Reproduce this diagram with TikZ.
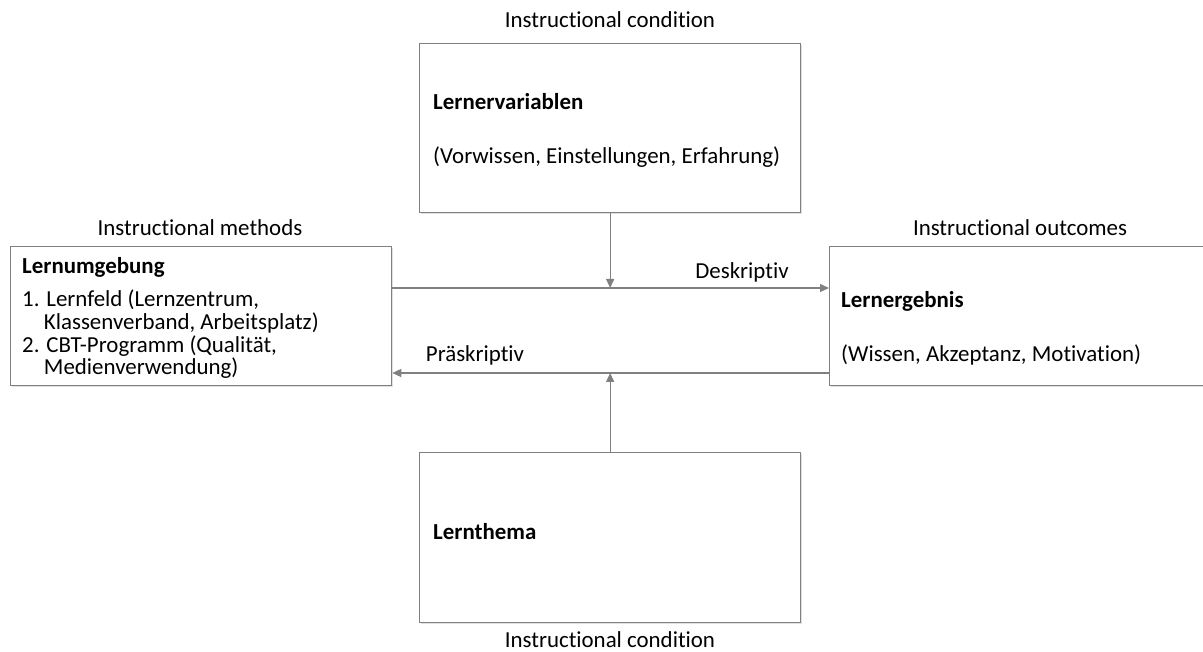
\documentclass[tikz,border=0pt]{standalone}
\usepackage{fontspec}
\setmainfont{Carlito}[Ligatures=NoCommon]
\usetikzlibrary{arrows.meta,shadows}
\definecolor{edge}{RGB}{128,128,128}
\tikzset{
  box/.style={draw=edge, line width=1.3pt, fill=white, anchor=north west,
    inner sep=0pt, drop shadow={shadow xshift=1.2pt, shadow yshift=-1.2pt,
    fill=black, opacity=0.12}},
  arr/.style={draw=edge, line width=1.3pt,
    -{Triangle[length=9pt,width=8pt]}},
  caption/.style={font=\fontsize{22.9}{24}\selectfont, inner sep=0pt},
  body/.style={font=\fontsize{22.9}{24}\selectfont, inner sep=0pt, anchor=west},
  head/.style={body, font=\fontsize{22.9}{24}\selectfont\bfseries},
}
\begin{document}
\begin{tikzpicture}[x=1pt,y=-1pt]
\useasboundingbox (0,0) rectangle (1203,652);

% boxes
\node[box, minimum width=381pt, minimum height=169pt] (T) at (419,43) {};
\node[box, minimum width=381pt, minimum height=139pt] (L) at (10,246) {};
\node[box, minimum width=376pt, minimum height=139pt] (R) at (829,246) {};
\node[box, minimum width=381pt, minimum height=170pt] (B) at (419,452) {};

% captions above and below the boxes
\node[caption] (capT) at (610,20) {Instructional condition};
\node[caption] (capL) at (200,228) {Instructional methods};
\node[caption] (capR) at (1020,228) {Instructional outcomes};
\node[caption] (capB) at (610,640) {Instructional condition};

% box contents
\node[head] (tT) at (433,102) {Lernervariablen};
\node[body] (bT) at (433,157) {(Vorwissen, Einstellungen, Erfahrung)};

\node[head] (tL) at (22,267) {Lernumgebung};
\node[body, anchor=north west, align=left,
  font=\fontsize{22.9}{22.6}\selectfont] (bL) at (22,290)
  {1. Lernfeld (Lernzentrum,\\
   \hspace*{0.95em}Klassenverband, Arbeitsplatz)\\
   2. CBT-Programm (Qualität,\\
   \hspace*{0.95em}Medienverwendung)};

\node[head] (tR) at (841,301) {Lernergebnis};
\node[body] (bR) at (841,355) {(Wissen, Akzeptanz, Motivation)};

\node[head] (tB) at (433,532) {Lernthema};

% connectors
\coordinate (yD) at (0,288);
\coordinate (yP) at (0,373);
\draw[arr] (L.east |- yD) -- (R.west |- yD);
\draw[arr] (R.west |- yP) -- (L.east |- yP);
\draw[arr] (T.south) -- (T.south |- yD);
\draw[arr] (B.north) -- (B.north |- yP);

\node[caption] (lD) at (742,272) {Deskriptiv};
\node[caption] (lP) at (475,355) {Präskriptiv};
\end{tikzpicture}
\end{document}
